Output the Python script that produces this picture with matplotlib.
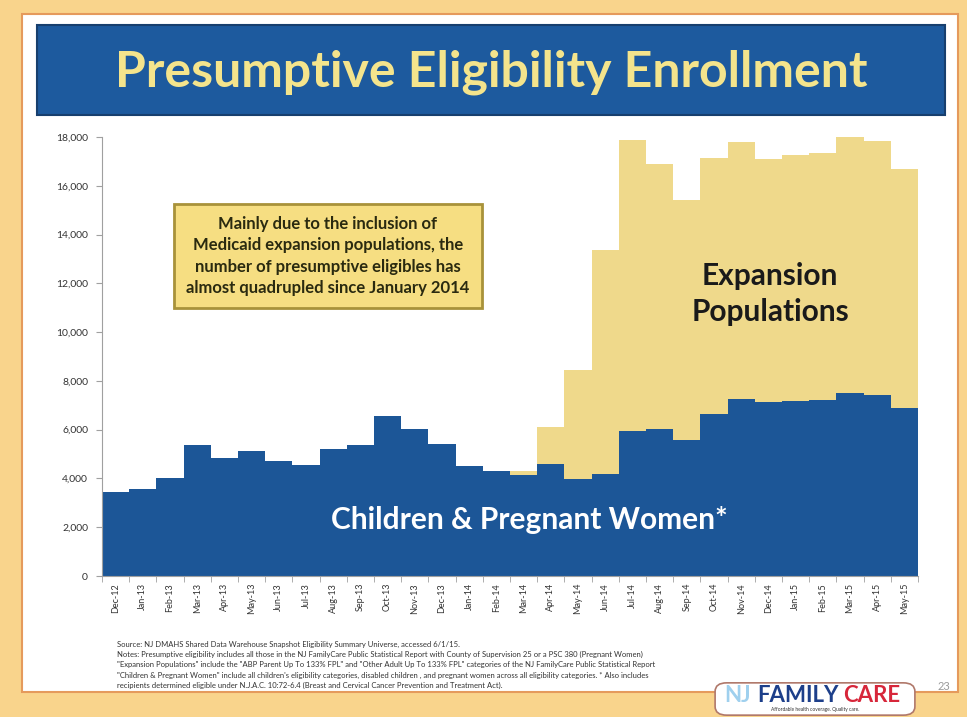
import matplotlib.pyplot as plt
from matplotlib.patches import Rectangle, FancyBboxPatch
from matplotlib.ticker import FuncFormatter, FixedLocator

months = ['Dec-12', 'Jan-13', 'Feb-13', 'Mar-13', 'Apr-13', 'May-13', 'Jun-13', 'Jul-13',
          'Aug-13', 'Sep-13', 'Oct-13', 'Nov-13', 'Dec-13', 'Jan-14', 'Feb-14', 'Mar-14',
          'Apr-14', 'May-14', 'Jun-14', 'Jul-14', 'Aug-14', 'Sep-14', 'Oct-14', 'Nov-14',
          'Dec-14', 'Jan-15', 'Feb-15', 'Mar-15', 'Apr-15', 'May-15']
children = [3460, 3570, 4010, 5380, 4850, 5130, 4720, 4560, 5200, 5380, 6540, 6020,
            5410, 4490, 4310, 4130, 4590, 3970, 4200, 5950, 6020, 5570, 6640, 7250,
            7120, 7190, 7210, 7490, 7430, 6880]
expansion = [0, 0, 0, 0, 0, 0, 0, 0, 0, 0, 0, 0,
             0, 0, 0, 180, 1500, 4470, 9170, 11910, 10880, 9830, 10510, 10540,
             9990, 10060, 10130, 10490, 10400, 9820]

footnotes = [
    'Source: NJ DMAHS Shared Data Warehouse Snapshot Eligibility Summary Universe, accessed 6/1/15.',
    'Notes: Presumptive eligibility includes all those in the NJ FamilyCare Public Statistical Report with County of Supervision 25 or a PSC 380 (Pregnant Women)',
    '"Expansion Populations" include the "ABP Parent Up To 133% FPL" and "Other Adult Up To 133% FPL" categories of the NJ FamilyCare Public Statistical Report',
    '"Children & Pregnant Women" include all children\'s eligibility categories, disabled children , and pregnant women across all eligibility categories. * Also includes',
    'recipients determined eligible under N.J.A.C. 10:72-6.4 (Breast and Cervical Cancer Prevention and Treatment Act).',
]

BLUE = '#1c5697'
YELLOW = '#efd98b'
FONT = ['Lato', 'DejaVu Sans']
plt.rcParams['font.family'] = FONT

W, H = 967, 717
fig = plt.figure(figsize=[W / 100, H / 100], dpi=100)
fig.patch.set_facecolor('#f9d48c')


def fx(px):
    return px / W


def fy(py):
    return 1 - py / H


# slide panel and title banner
fig.patches.append(Rectangle((fx(22), fy(692)), fx(936), 678 / H, transform=fig.transFigure,
                             facecolor='white', edgecolor='#e59a5c', lw=1.5, zorder=0))
fig.patches.append(Rectangle((fx(37), fy(115)), fx(908), 90 / H, transform=fig.transFigure,
                             facecolor='#1d5a9e', edgecolor='#173f6e', lw=1.5, zorder=1))
fig.text(fx(491), fy(72), 'Presumptive Eligibility Enrollment', ha='center', va='center',
         fontsize=36, fontweight='bold', color='#f4e48c')

ax = fig.add_axes([fx(102), fy(576), fx(816), (576 - 137) / H])
ax.set_zorder(2)
x = range(len(months))
ax.bar(x, children, width=1.0, color=BLUE, linewidth=0)
ax.bar(x, expansion, width=1.0, bottom=children, color=YELLOW, linewidth=0)

ax.set_xlim(-0.5, len(months) - 0.5)
ax.set_ylim(0, 18000)
ax.set_yticks(range(0, 18001, 2000))
ax.yaxis.set_major_formatter(FuncFormatter(lambda v, p: f'{int(v):,}'))
ax.set_xticks(list(x))
ax.set_xticklabels(months, rotation=90, fontsize=6.5, color='#333333')
ax.xaxis.set_minor_locator(FixedLocator([i - 0.5 for i in range(len(months) + 1)]))
ax.tick_params(axis='x', which='major', length=0, pad=5)
ax.tick_params(axis='x', which='minor', length=4, color='#a0a0a0')
ax.tick_params(axis='y', length=4, color='#a0a0a0', labelsize=7.5, labelcolor='#333333', pad=6)
for s in ['top', 'right']:
    ax.spines[s].set_visible(False)
for s in ['left', 'bottom']:
    ax.spines[s].set_color('#a0a0a0')
ax.set_facecolor('none')

# annotations
fig.text(fx(328), fy(256),
         'Mainly due to the inclusion of\nMedicaid expansion populations, the\n'
         'number of presumptive eligibles has\nalmost quadrupled since January 2014',
         ha='center', va='center', fontsize=12, fontweight='bold', color='#2a2a10',
         linespacing=1.4, zorder=5,
         bbox=dict(boxstyle='square,pad=0.75', facecolor='#f6de82', edgecolor='#a8923a', lw=2))
fig.text(fx(770), fy(294), 'Expansion\nPopulations', ha='center', va='center',
         fontsize=21.5, fontweight='bold', color='#1a1a1a', linespacing=1.35, zorder=5)
fig.text(fx(529), fy(520), 'Children & Pregnant Women*', ha='center', va='center',
         fontsize=21.5, fontweight='bold', color='white', zorder=5)

# footnotes
for i, line in enumerate(footnotes):
    fig.text(fx(117), fy(644 + i * 10.4), line, ha='left', va='center',
             fontsize=5.5, color='#333333')

# page number and logo
fig.text(fx(944), fy(686), '23', ha='center', va='center', fontsize=8, color='#9a9a9a')
fig.patches.append(FancyBboxPatch((fx(718), fy(713)), fx(194), 28 / H,
                                  boxstyle='round,pad=0.003,rounding_size=0.012',
                                  transform=fig.transFigure, facecolor='white',
                                  edgecolor='#b0786a', lw=1.2, zorder=2))
fig.text(fx(738), fy(695), 'NJ', ha='center', va='center', fontsize=16,
         fontweight='bold', color='#9fd0ee', zorder=3)
fig.text(fx(798), fy(695), 'FAMILY', ha='center', va='center', fontsize=16,
         fontweight='bold', color='#1d3f8a', zorder=3)
fig.text(fx(872), fy(695), 'CARE', ha='center', va='center', fontsize=16,
         fontweight='bold', color='#d7263a', zorder=3)
fig.text(fx(815), fy(709), 'Affordable health coverage. Quality care.', ha='center',
         va='center', fontsize=3.5, color='#333333', zorder=3)

fig.savefig('out.png', dpi=100, facecolor=fig.get_facecolor())
